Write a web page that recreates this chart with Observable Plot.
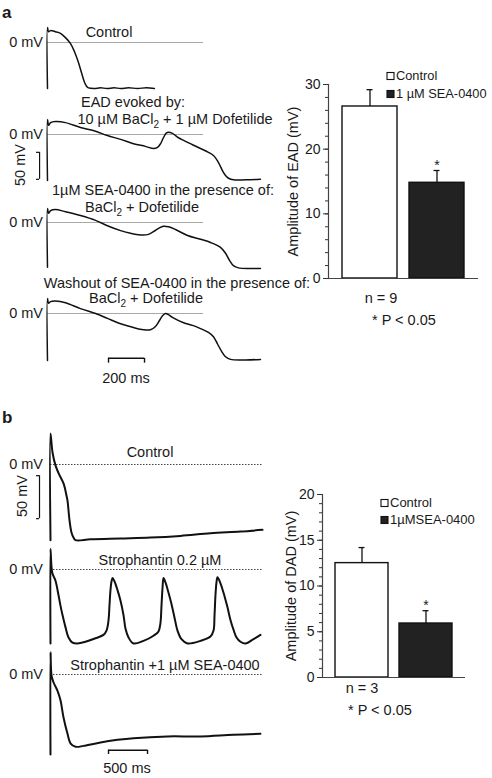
<!DOCTYPE html>
<html><head><meta charset="utf-8">
<script src="https://cdn.jsdelivr.net/npm/d3@7"></script>
<script src="https://cdn.jsdelivr.net/npm/@observablehq/plot@0.6"></script>
<style>
body{margin:0;background:#fff;}
#fig{position:relative;width:492px;height:778px;overflow:hidden;background:#fff;font-family:"Liberation Sans",Arial,sans-serif;}
#fig svg{position:absolute;overflow:visible;}
</style></head><body><div id="fig"></div>
<script>
// ---------------- DATA ----------------
// Panel a: action potential traces (time in ms, membrane potential in mV)
const ctrlA_t  = [0,0,6,17,44,72,100,128,150,172,189,206,217,228,260,294,330,370,406,450,500,550,594];
const ctrlA_mV = [-85,28,20,22,20,17,9,-2,-17,-37,-56,-74,-81,-84,-85,-84,-85,-84,-85,-84,-85,-84,-85];
const eadA_t   = [0,0,6,17,44,100,183,267,333,406,478,544,589,611,628,644,661,672,694,728,756,806,850,894,922,950,972,989,1006,1033,1100,1183];
const eadA_mV  = [-85,28,17,22,24,22,13,6,-2,-9,-17,-22,-26,-24,-17,-6,3,4,2,-6,-11,-19,-26,-33,-39,-52,-67,-76,-81,-84,-84,-83];
const seaA_t   = [0,0,6,17,44,100,183,267,333,406,461,517,561,589,617,644,672,711,778,850,906,961,989,1011,1033,1061,1128,1183];
const seaA_mV  = [-83,26,17,22,24,20,13,4,-6,-15,-20,-23,-22,-17,-11,-7,-8,-13,-24,-31,-37,-46,-57,-70,-80,-84,-85,-85];
const washA_t  = [0,0,6,17,44,100,183,267,333,406,478,533,572,600,622,639,656,672,694,756,806,850,894,922,944,967,989,1017,1100,1183];
const washA_mV = [-87,28,19,22,23,20,9,0,-9,-19,-26,-30,-30,-24,-13,-4,0,-2,-7,-17,-22,-28,-35,-43,-56,-70,-80,-85,-86,-85];

// Panel b: traces
const ctrlB_t  = [0,0,26,64,103,167,205,218,244,269,295,321,513,897,1282,1667,2051,2436,2718];
const ctrlB_mV = [-88,36,14,-1,-10,-22,-36,-42,-65,-79,-85,-88,-87,-86,-85,-83,-80,-78,-76];
const strB_t   = [0,0,13,26,64,103,128,154,192,231,282,346,449,577,679,718,744,756,769,782,795,821,859,897,936,962,1000,1064,1192,1321,1385,1410,1423,1436,1449,1474,1513,1551,1590,1628,1679,1756,1923,2051,2090,2103,2115,2128,2141,2179,2231,2269,2308,2346,2385,2436,2500,2603,2692];
const strB_mV  = [-86,24,3,-5,-13,-30,-42,-53,-67,-79,-85,-86,-84,-80,-76,-71,-59,-42,-24,-14,-10,-14,-24,-36,-53,-69,-79,-86,-83,-77,-72,-62,-42,-22,-10,-15,-27,-40,-56,-71,-81,-86,-83,-78,-71,-53,-30,-15,-9,-16,-31,-44,-59,-70,-79,-84,-86,-81,-76];
const seaB_t   = [0,0,13,38,90,128,167,218,256,321,423,641,859,1064,1500,1923,2346,2692];
const seaB_mV  = [-93,26,-1,-9,-19,-30,-50,-69,-80,-84,-83,-79,-76,-74,-72,-72,-70,-69];

// Scale bars
const timeBarMs = [200, 500];
const voltBarMv = [50, 50];

// Bar charts
const groups   = ["Control", "1 µM SEA-0400"];
const eadMean  = [26.6, 14.8];
const eadSem   = [2.6, 1.9];
const dadMean  = [12.5, 5.9];
const dadSem   = [1.7, 1.4];
const sigMarks = ["", "*"];
const eadMajorTicks = [0, 10, 20, 30];
const eadMinorTicks = [0,2,4,6,8,10,12,14,16,18,20,22,24,26,28,30];
const dadMajorTicks = [0, 5, 10, 15, 20];
const dadMinorTicks = [0,1,2,3,4,5,6,7,8,9,10,11,12,13,14,15,16,17,18,19,20];

// ---------------- DRAWING ----------------
const FONT = '"Liberation Sans", Arial, Helvetica, sans-serif';
const fig = document.getElementById("fig");
function place(svg, left, top) { svg.style.left = left + "px"; svg.style.top = top + "px"; fig.appendChild(svg); }
const zip = (t, v) => t.map((ti, i) => ({t: ti, v: v[i]}));

function tracePlot(t, v, o) {
  const data = zip(t, v);
  const marks = [
    Plot.ruleY([0], {x1: 0, x2: o.zeroEnd, stroke: o.zeroStroke, strokeWidth: 1, strokeDasharray: o.dash}),
    Plot.line(data, {x: "t", y: "v", stroke: "#111", strokeWidth: o.sw, curve: "catmull-rom"})
  ];
  if (o.vbar) {
    const {x, top, len, tick} = o.vbar;
    marks.push(Plot.ruleX([x], {y1: top, y2: top - len, stroke: "#111", strokeWidth: 1.2}));
    marks.push(Plot.ruleY([top, top - len], {x1: x - tick, x2: x, stroke: "#111", strokeWidth: 1.2}));
  }
  if (o.hbar) {
    const {x, len, v: hv, tick} = o.hbar;
    marks.push(Plot.ruleY([hv], {x1: x, x2: x + len, stroke: "#111", strokeWidth: 1.4}));
    marks.push(Plot.ruleX([x, x + len], {y1: hv, y2: hv - tick, stroke: "#111", strokeWidth: 1.4}));
  }
  const svg = Plot.plot({
    width: 492, height: o.height, margin: 0,
    x: {domain: [0, 1000], range: [o.x0, o.x0 + 1000 * o.pxPerMs], axis: null},
    y: {domain: [0, -100], range: [o.zeroY - o.top, o.zeroY - o.top + 100 * o.pxPerMv], axis: null},
    style: {background: "transparent", overflow: "visible"},
    marks
  });
  place(svg, 0, o.top);
}

const A = {x0: 47, pxPerMs: 0.18, pxPerMv: 0.54, sw: 1.5, zeroEnd: 867, zeroStroke: "#a8a8a8", dash: null};
tracePlot(ctrlA_t, ctrlA_mV, {...A, zeroY: 42, top: 20, height: 74});
tracePlot(eadA_t, eadA_mV, {...A, zeroY: 134, top: 112, height: 72, vbar: {x: -44, top: -33, len: voltBarMv[0], tick: 17}});
tracePlot(seaA_t, seaA_mV, {...A, zeroY: 222, top: 200, height: 72});
tracePlot(washA_t, washA_mV, {...A, zeroY: 313, top: 292, height: 76, hbar: {x: 339, len: timeBarMs[0], v: -83, tick: 9}});

const B = {x0: 50, pxPerMs: 0.078, pxPerMv: 0.86, sw: 2, zeroEnd: 2718, zeroStroke: "#444", dash: "1.5,1.5"};
tracePlot(ctrlB_t, ctrlB_mV, {...B, zeroY: 464, top: 428, height: 116, vbar: {x: -141, top: -13, len: voltBarMv[1], tick: 38}});
tracePlot(strB_t, strB_mV, {...B, zeroY: 569, top: 543, height: 105});
tracePlot(seaB_t, seaB_mV, {...B, zeroY: 674, top: 648, height: 110, hbar: {x: 744, len: timeBarMs[1], v: -88, tick: 5}});

function barPlot(mean, sem, o) {
  const data = groups.map((g, i) => ({group: g, mean: mean[i], sem: sem[i], sig: sigMarks[i]}));
  const svg = Plot.plot({
    width: o.width, height: o.height,
    marginLeft: o.ml, marginRight: o.mr, marginTop: o.mt, marginBottom: o.mb,
    x: {type: "band", domain: groups, range: o.xr, paddingInner: o.pi, paddingOuter: 0, round: false, axis: null},
    y: {domain: o.ydom, axis: null},
    style: {background: "transparent", overflow: "visible", fontFamily: FONT, fontSize: "14px", color: "#1a1a1a"},
    marks: [
      Plot.ruleX(data, {x: "group", y1: "mean", y2: d => d.mean + d.sem, stroke: "#111", strokeWidth: 1.3}),
      Plot.tickY(data, {x: "group", y: d => d.mean + d.sem, insetLeft: o.cap, insetRight: o.cap, stroke: "#111", strokeWidth: 1.3}),
      Plot.barY(data, {x: "group", y: "mean", fill: (d, i) => i === 0 ? "#fff" : "#222", stroke: "#111", strokeWidth: 1.4}),
      Plot.text(data, {x: "group", y: d => d.mean + d.sem, text: "sig", lineAnchor: "bottom", dy: o.starDy, fontSize: 14}),
      Plot.ruleY([0], {stroke: "#444", strokeWidth: 1.2}),
      Plot.frame({anchor: "left", stroke: "#444", strokeWidth: 1.2}),
      Plot.axisY(o.minor, {tickSize: 3, tickFormat: () => "", label: null, stroke: "#333", strokeWidth: 1}),
      Plot.axisY(o.major, {tickSize: 5, tickPadding: 3, label: null, stroke: "#333", strokeWidth: 1}),
      Plot.text([o.label], {frameAnchor: "left", textAnchor: "middle", rotate: -90, dx: -o.labelOff, text: d => d, fontSize: 14.5})
    ]
  });
  place(svg, o.left, o.top);
}

barPlot(eadMean, eadSem, {left: 260, top: 60, width: 232, height: 260, ml: 68, mr: 14, mt: 24, mb: 42,
  xr: [82, 204], pi: 0.179, cap: 24.5, ydom: [0, 30], major: eadMajorTicks, minor: eadMinorTicks,
  label: "Amplitude of EAD (mV)", labelOff: 35, starDy: -1});
barPlot(dadMean, dadSem, {left: 270, top: 450, width: 222, height: 250, ml: 52, mr: 27, mt: 44, mb: 23,
  xr: [65, 182], pi: 0.172, cap: 23.5, ydom: [0, 20], major: dadMajorTicks, minor: dadMinorTicks,
  label: "Amplitude of DAD (mV)", labelOff: 31, starDy: -1});

// ---------------- TEXT OVERLAY ----------------
const ov = d3.create("svg").attr("width", 492).attr("height", 778)
  .attr("font-family", FONT).attr("fill", "#1a1a1a");
function label(x, y, parts, opts = {}) {
  const t = ov.append("text").attr("x", x).attr("y", y)
    .attr("text-anchor", opts.anchor || "middle")
    .attr("font-size", opts.size || 14.5)
    .attr("font-weight", opts.weight || "normal");
  if (opts.rotate) t.attr("transform", `rotate(${opts.rotate},${x},${y})`).attr("dominant-baseline", "central");
  for (const p of [].concat(parts)) {
    if (typeof p === "string") t.append("tspan").text(p);
    else { const s = t.append("tspan").attr("dy", p.dy).text(p.s); if (p.size) s.attr("font-size", p.size); }
  }
}
const sub2 = (rest) => ["BaCl", {s: "2", dy: 4, size: 10}, {s: rest, dy: -4}];

label(2, 18, "a", {anchor: "start", size: 17, weight: "bold"});
label(2, 423, "b", {anchor: "start", size: 17, weight: "bold"});

// panel a trace labels
for (const y of [47, 139, 227, 318]) label(43, y, "0 mV", {anchor: "end"});
label(109, 37, "Control");
label(133, 107, "EAD evoked by:");
label(175, 124, ["10 µM ", ...sub2(" + 1 µM Dofetilide")]);
label(163, 195, "1µM SEA-0400 in the presence of:");
label(142, 212, sub2(" + Dofetilide"));
label(177, 288, "Washout of SEA-0400 in the presence of:");
label(146, 303, sub2(" + Dofetilide"));
label(126, 383, timeBarMs[0] + " ms");
label(20, 165, voltBarMv[0] + " mV", {rotate: -90});

// panel b trace labels
for (const y of [469, 574, 679]) label(43, y, "0 mV", {anchor: "end"});
label(150, 457, "Control");
label(160, 565, "Strophantin 0.2 µM");
label(165, 670, "Strophantin +1 µM SEA-0400");
label(127, 773, timeBarMs[1] + " ms");
label(22, 496, voltBarMv[1] + " mV", {rotate: -90});

// bar chart annotations
label(381, 303, "n = 9");
label(372, 325, "* P < 0.05", {anchor: "start"});
label(362, 693, "n = 3");
label(348, 715, "* P < 0.05", {anchor: "start"});

// legends
function legend(x, y, names, gap, size) {
  names.forEach((n, i) => {
    ov.append("rect").attr("x", x).attr("y", y + i * gap - 7.5).attr("width", 7).attr("height", 7)
      .attr("fill", i === 0 ? "#fff" : "#222").attr("stroke", "#111").attr("stroke-width", 1.1);
    label(x + 9, y + i * gap, n, {anchor: "start", size});
  });
}
legend(387, 80, ["Control", "1 µM SEA-0400"], 18, 12.8);
legend(381, 507, ["Control", "1µMSEA-0400"], 17, 13);

const ovNode = ov.node();
ovNode.style.left = "0px"; ovNode.style.top = "0px";
fig.appendChild(ovNode);
</script></body></html>
